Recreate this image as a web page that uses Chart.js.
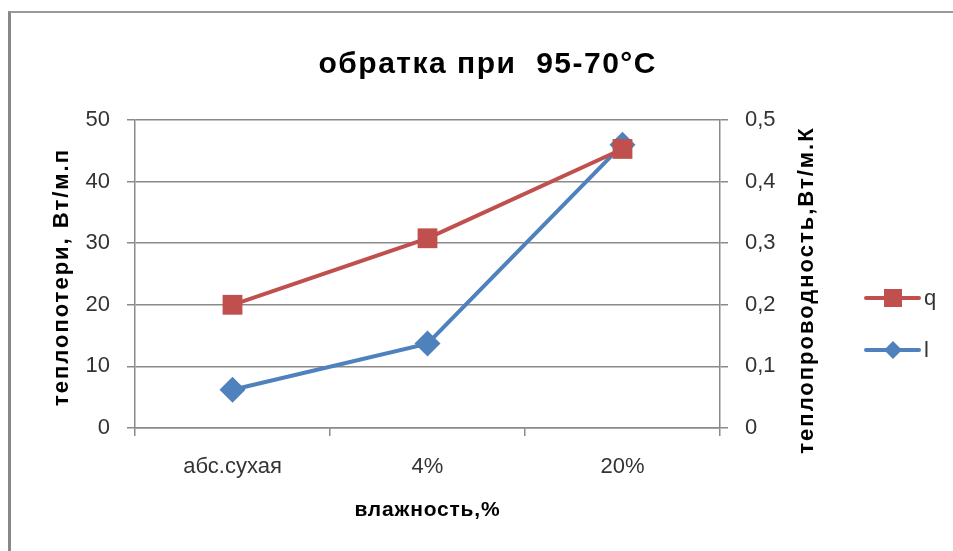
<!DOCTYPE html>
<html>
<head>
<meta charset="utf-8">
<script src="https://cdn.jsdelivr.net/npm/chart.js@4.4.1/dist/chart.umd.min.js"></script>
<style>
    html, body { margin: 0; padding: 0; background: #fff; }
    #wrap { position: relative; width: 953px; height: 551px; overflow: hidden; }
    #frame { position: absolute; left: 8px; top: 11px; right: -10px; bottom: -10px; border-top: 2px solid #999; border-left: 3px solid #888; pointer-events: none; }
    canvas { position: absolute; left: 0; top: 0; }
</style>
</head>
<body>
<div id="wrap">
    <canvas id="heatChart" width="953" height="551"></canvas>
    <div id="frame"></div>
</div>
<script>
const categories = ['абс.сухая', '4%', '20%'];
const qValues = [20, 30.8, 45.3];
const lValues = [0.062, 0.137, 0.46];
const leftTicks = [0, 10, 20, 30, 40, 50];
const rightTicks = [0, 0.1, 0.2, 0.3, 0.4, 0.5];

const chartTitle = 'обратка при  95-70°C';
const xTitle = 'влажность,%';
const leftTitle = 'теплопотери, Вт/м.п';
const rightTitle = 'теплопроводность,Вт/м.К';

const fontFamily = '"Liberation Sans", Arial, sans-serif';
const gridColor = '#8a8a8a';
const textColor = '#333';
const red = '#C0504D';
const blue = '#4F81BD';

const tickFont = { family: fontFamily, size: 22 };

function drawMarker(ctx, style, x, y, r, color) {
    ctx.save();
    ctx.fillStyle = color;
    ctx.beginPath();
    if (style === 'rect') {
        ctx.rect(x - r, y - r, r * 2, r * 2);
    } else {
        ctx.moveTo(x, y - r);
        ctx.lineTo(x + r, y);
        ctx.lineTo(x, y + r);
        ctx.lineTo(x - r, y);
        ctx.closePath();
    }
    ctx.fill();
    ctx.restore();
}

function spacedText(ctx, text, x, y, spacing) {
    ctx.letterSpacing = spacing + 'px';
    ctx.fillText(text, x + spacing / 2, y);
    ctx.letterSpacing = '0px';
}

// titles and legend drawn by hand so they sit where the original has them
const extrasPlugin = {
    id: 'extras',
    afterDraw(chart) {
        const ctx = chart.ctx;
        ctx.save();
        ctx.fillStyle = '#000';
        ctx.textAlign = 'center';
        ctx.textBaseline = 'middle';

        ctx.font = 'bold 30px ' + fontFamily;
        spacedText(ctx, chartTitle, 487, 65, 1.5);

        ctx.font = 'bold 21px ' + fontFamily;
        spacedText(ctx, xTitle, 427, 510, 0.8);

        ctx.font = 'bold 22px ' + fontFamily;
        ctx.save();
        ctx.translate(62, 278);
        ctx.rotate(-Math.PI / 2);
        spacedText(ctx, leftTitle, 0, 0, 2);
        ctx.restore();

        ctx.save();
        ctx.translate(807, 291);
        ctx.rotate(-Math.PI / 2);
        spacedText(ctx, rightTitle, 0, 0, 2);
        ctx.restore();

        // legend
        const items = [
            { label: 'q', color: red, style: 'rect', y: 298, r: 9 },
            { label: 'l', color: blue, style: 'rectRot', y: 350, r: 9 },
        ];
        items.forEach(item => {
            ctx.strokeStyle = item.color;
            ctx.lineWidth = 4;
            ctx.lineCap = 'round';
            ctx.beginPath();
            ctx.moveTo(866, item.y);
            ctx.lineTo(919, item.y);
            ctx.stroke();
            drawMarker(ctx, item.style, 893, item.y, item.r, item.color);
            ctx.fillStyle = textColor;
            ctx.font = '22px ' + fontFamily;
            ctx.textAlign = 'left';
            ctx.fillText(item.label, 924, item.y + 1);
        });
        ctx.restore();
    }
};

const ctx = document.getElementById('heatChart').getContext('2d');
const heatChart = new Chart(ctx, {
    type: 'line',
    data: {
        labels: categories,
        datasets: [
            {
                label: 'q',
                data: qValues,
                yAxisID: 'y',
                borderColor: red,
                backgroundColor: red,
                borderWidth: 4,
                pointStyle: 'rect',
                pointRadius: 14,
                pointBorderWidth: 0,
                tension: 0,
            },
            {
                label: 'l',
                data: lValues,
                yAxisID: 'y1',
                borderColor: blue,
                backgroundColor: blue,
                borderWidth: 4,
                pointStyle: 'rectRot',
                pointRadius: 13,
                pointBorderWidth: 0,
                tension: 0,
            }
        ]
    },
    options: {
        responsive: false,
        animation: false,
        layout: { padding: { top: 120, left: 0, right: 0, bottom: 0 } },
        plugins: {
            legend: { display: false },
            title: { display: false },
            tooltip: { enabled: false },
        },
        scales: {
            x: {
                offset: true,
                grid: { offset: true, drawOnChartArea: false, drawTicks: true, tickLength: 8, color: gridColor, lineWidth: 1.5 },
                border: { color: gridColor, width: 1.5 },
                ticks: { font: tickFont, color: textColor, padding: 18, maxRotation: 0 },
                afterFit: scale => { scale.height = 123; },
            },
            y: {
                position: 'left',
                min: 0,
                max: 50,
                afterBuildTicks: scale => { scale.ticks = leftTicks.map(v => ({ value: v })); },
                grid: { color: gridColor, lineWidth: 1.5, tickLength: 8 },
                border: { color: gridColor, width: 1.5 },
                ticks: { font: tickFont, color: textColor, padding: 17 },
                afterFit: scale => { scale.width = 135; },
            },
            y1: {
                position: 'right',
                min: 0,
                max: 0.5,
                afterBuildTicks: scale => { scale.ticks = rightTicks.map(v => ({ value: v })); },
                grid: { drawOnChartArea: false, color: gridColor, lineWidth: 1.5, tickLength: 8 },
                border: { color: gridColor, width: 1.5 },
                ticks: {
                    font: tickFont,
                    color: textColor,
                    padding: 17,
                    callback: value => String(value).replace('.', ','),
                },
                afterFit: scale => { scale.width = 233; },
            }
        }
    },
    plugins: [extrasPlugin]
});
</script>
</body>
</html>
